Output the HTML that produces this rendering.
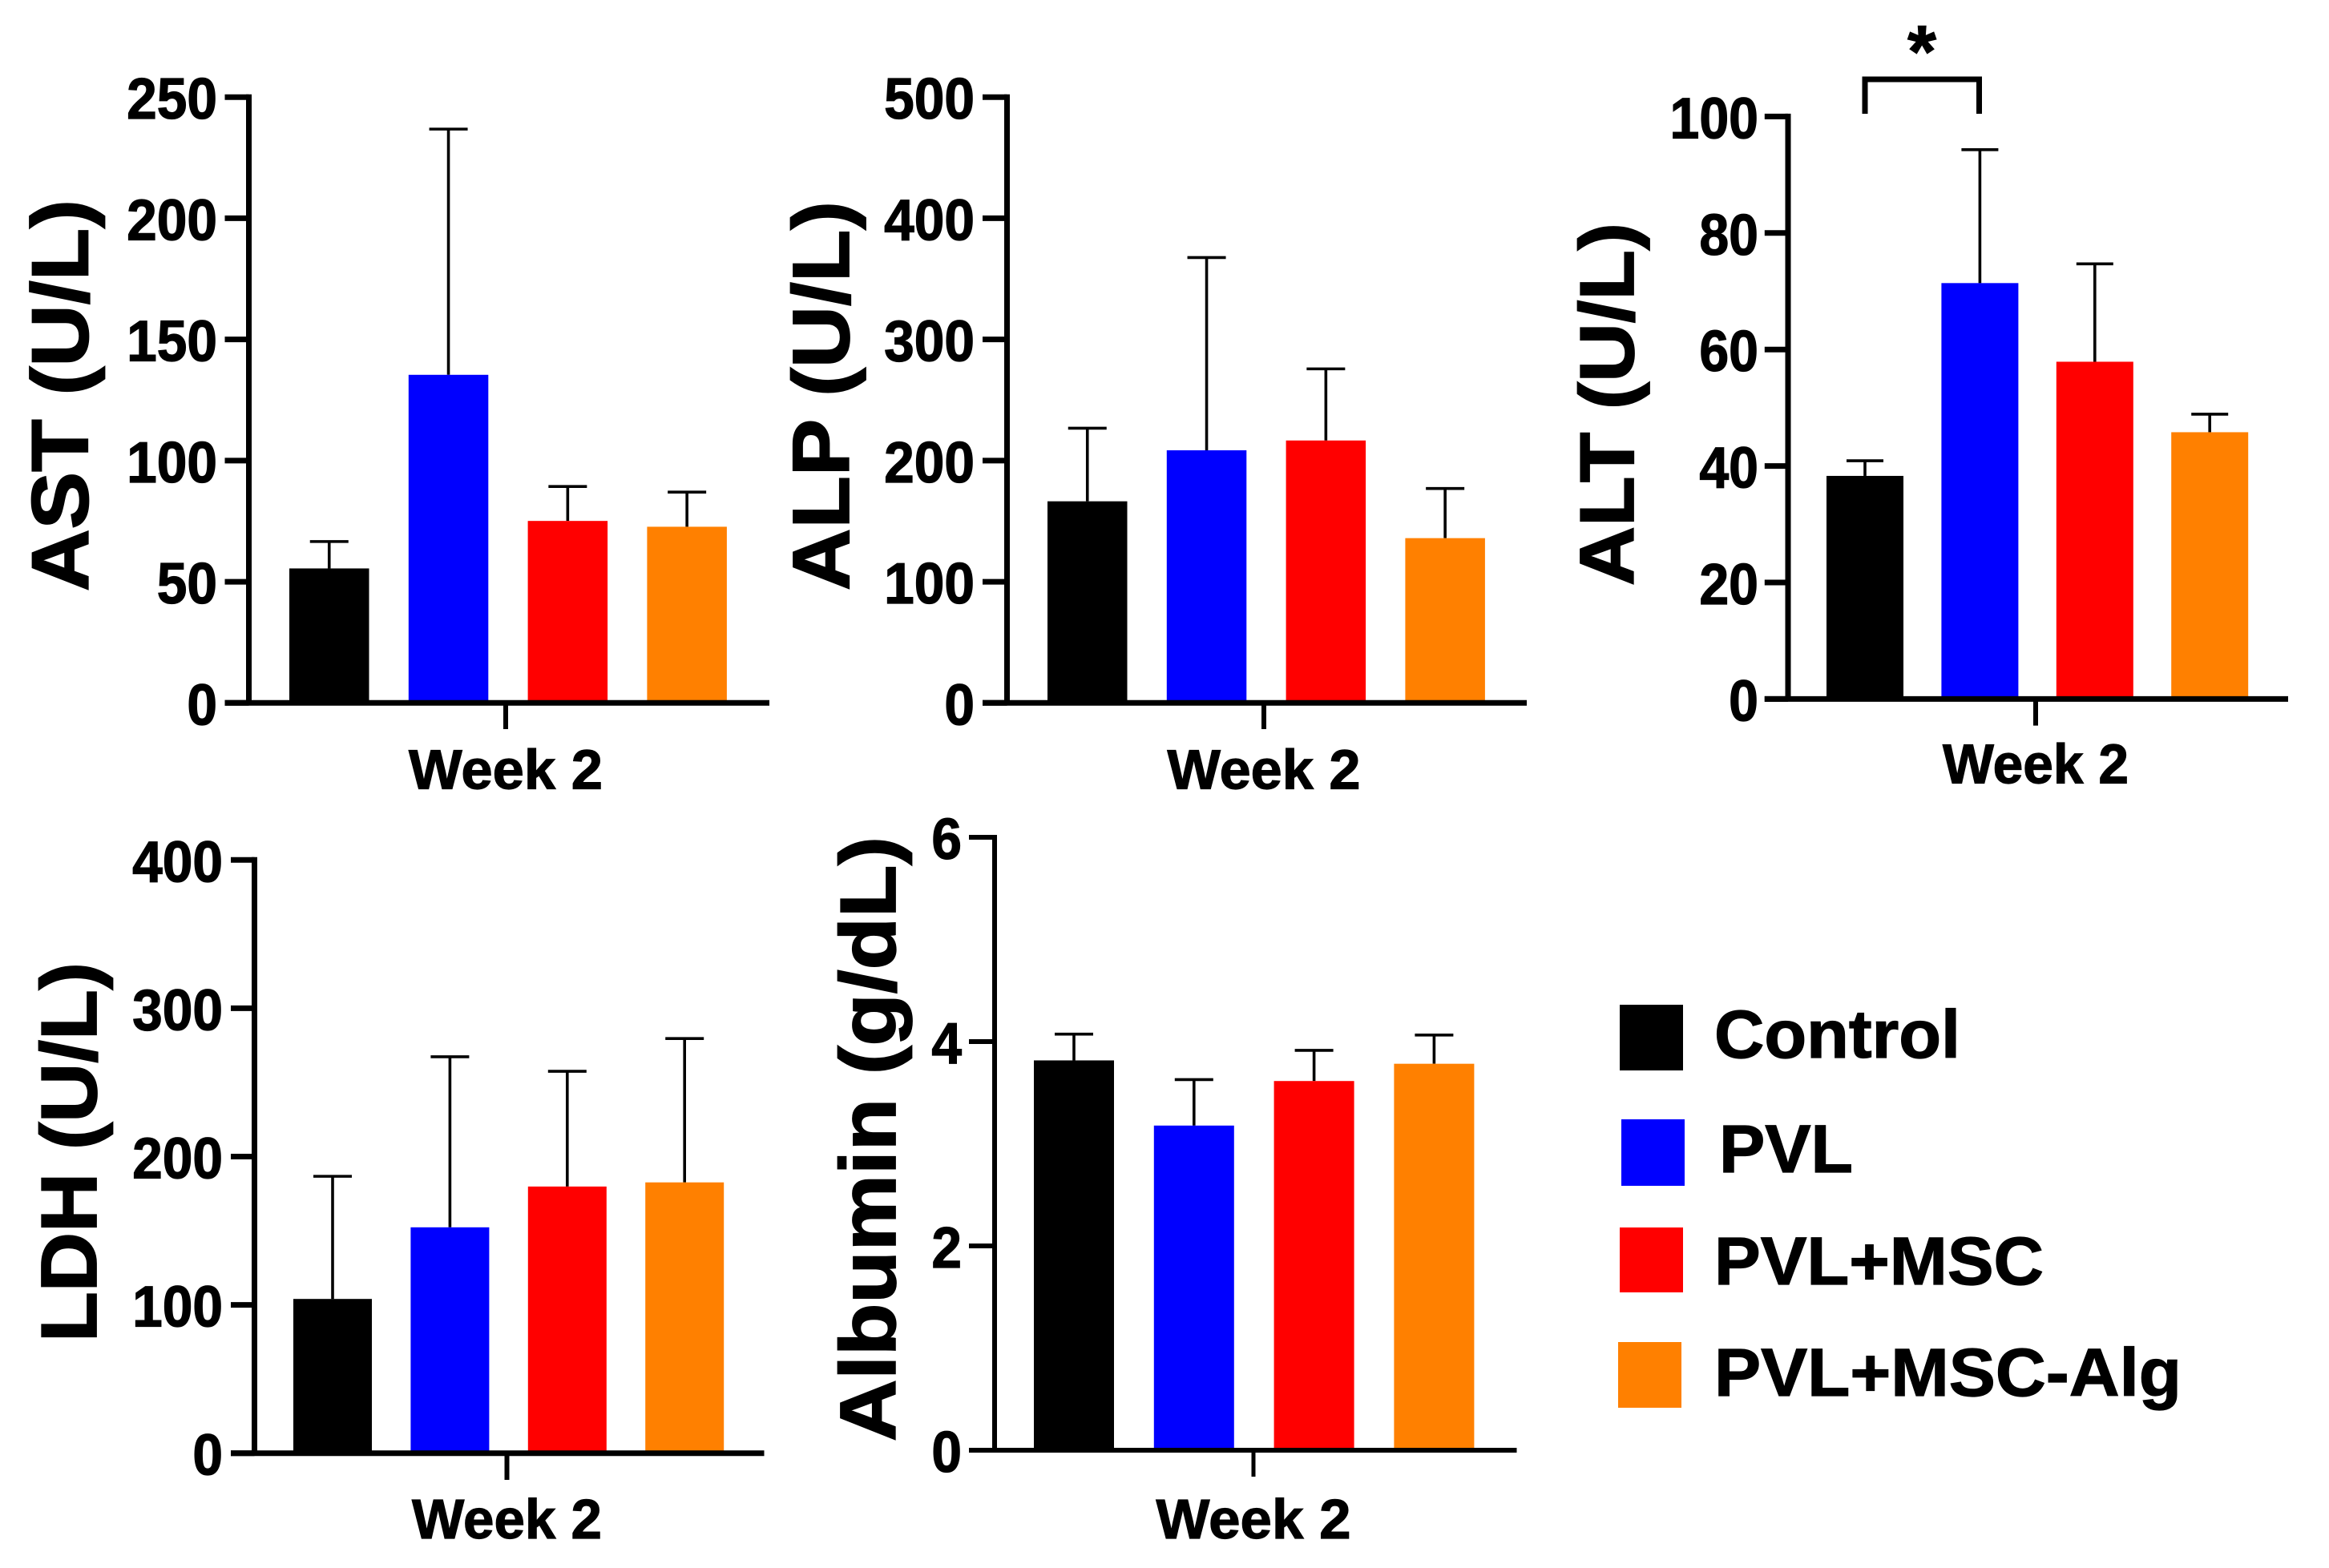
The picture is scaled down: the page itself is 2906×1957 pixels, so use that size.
<!DOCTYPE html>
<html lang="en">
<head>
<meta charset="utf-8">
<title>Liver function markers at week 2</title>
<style>
html,body{margin:0;padding:0;background:#fff;}
#figure{display:block;width:2906px;height:1957px;background:#fff;}
text{font-family:"Liberation Sans",Arial,sans-serif;font-weight:bold;fill:#000;stroke:#000;stroke-width:1.2px;}
</style>
</head>
<body>
<svg id="figure" xmlns="http://www.w3.org/2000/svg" width="2906" height="1957" viewBox="0 0 2906 1957"></svg>
<script>
// ---- data ----
const categories = ['Control', 'PVL', 'PVL+MSC', 'PVL+MSC-Alg'];
const seriesColors = ['#000000', '#0000ff', '#ff0000', '#ff8000'];
const xCategory = 'Week 2';

const astTicks = [0, 50, 100, 150, 200, 250];
const astMeans = [55.5, 135.4, 75.1, 72.7];
const astErrorTops = [66.6, 236.8, 89.3, 87];

const alpTicks = [0, 100, 200, 300, 400, 500];
const alpMeans = [166.4, 208.5, 216.6, 136];
const alpErrorTops = [226.7, 367.6, 275.7, 177];

const altTicks = [0, 20, 40, 60, 80, 100];
const altMeans = [38.3, 71.4, 57.9, 45.8];
const altErrorTops = [40.9, 94.3, 74.7, 48.9];

const ldhTicks = [0, 100, 200, 300, 400];
const ldhMeans = [104, 152.3, 179.8, 182.6];
const ldhErrorTops = [186.7, 267.3, 257.5, 279.6];

const albuminTicks = [0, 2, 4, 6];
const albuminMeans = [3.816, 3.178, 3.614, 3.783];
const albuminErrorTops = [4.073, 3.628, 3.914, 4.064];

// ---- drawing ----
const NS = 'http://www.w3.org/2000/svg';
const root = document.getElementById('figure');

function make(parent, tag, attrs, name) {
  const el = document.createElementNS(NS, tag);
  for (const k in attrs) el.setAttribute(k, attrs[k]);
  
  
  parent.appendChild(el);
  return el;
}

function line(parent, x1, y1, x2, y2, w, name) {
  return make(parent, 'line', {x1: x1, y1: y1, x2: x2, y2: y2, stroke: '#000', 'stroke-width': w}, name);
}

function drawPanel(key, title, ticks, means, errorTops, g) {
  const panel = make(root, 'g', {}, key + '-panel');
  const maxValue = ticks[ticks.length - 1];
  const yScale = v => g.base - (v / maxValue) * (g.base - g.top);
  const xScale = i => g.barStart + i * g.barStep;

  means.forEach((m, i) => {
    const left = xScale(i);
    const cx = left + g.barW / 2;
    const yTop = yScale(m);
    const yErr = yScale(errorTops[i]);
    line(panel, cx, yTop, cx, yErr, 3.6, key + '-error-bar-' + i);
    line(panel, cx - g.cap / 2, yErr, cx + g.cap / 2, yErr, 3.6, key + '-error-cap-' + i);
    make(panel, 'rect', {x: left, y: yTop, width: g.barW, height: g.base - yTop, fill: seriesColors[i]}, key + '-bar-' + i);
  });

  line(panel, g.axisX, g.top - g.sw / 2, g.axisX, g.base, g.sw, key + '-y-axis');
  line(panel, g.tickLeft, g.base, g.right, g.base, g.sw, key + '-x-axis');
  line(panel, g.xTick, g.base, g.xTick, g.xTickBottom, g.sw - 1, key + '-x-tick');

  ticks.forEach(t => {
    const y = yScale(t);
    line(panel, g.tickLeft, y, g.axisX, y, g.sw, key + '-y-tick-' + t);
    const label = make(panel, 'text', {
      transform: 'translate(' + g.labelRight + ',' + (y + 27) + ') scale(' + g.labelScale + ',1)',
      'text-anchor': 'end',
      'font-size': 72
    }, key + '-y-tick-label-' + t);
    label.textContent = t;
  });

  const axisTitle = make(panel, 'text', {
    transform: 'translate(' + g.titleX + ',' + g.titleStart + ') rotate(-90)',
    'font-size': g.titleSize,
    textLength: g.titleLen,
    lengthAdjust: 'spacingAndGlyphs',
    style: 'stroke-width:1.8px'
  }, key + '-y-axis-title');
  axisTitle.textContent = title;

  const week = make(panel, 'text', {
    x: g.xTick,
    y: g.weekBase,
    'text-anchor': 'middle',
    'font-size': 70,
    textLength: g.weekLen,
    lengthAdjust: 'spacingAndGlyphs'
  }, key + '-x-category-label');
  week.textContent = xCategory;
  return panel;
}

drawPanel('ast', 'AST (U/L)', astTicks, astMeans, astErrorTops, {
  axisX: 310.5, top: 121.2, base: 877.3, tickLeft: 280.5, right: 960, xTick: 631, xTickBottom: 910,
  barStart: 361, barStep: 148.8, barW: 99.5, cap: 48, sw: 7, labelRight: 271, labelScale: 0.94,
  titleX: 109.5, titleStart: 738, titleLen: 489, titleSize: 100, weekBase: 984.5, weekLen: 242
});

drawPanel('alp', 'ALP (U/L)', alpTicks, alpMeans, alpErrorTops, {
  axisX: 1256.5, top: 121.2, base: 877.3, tickLeft: 1226, right: 1905, xTick: 1577, xTickBottom: 910,
  barStart: 1307, barStep: 148.8, barW: 99.5, cap: 48, sw: 7, labelRight: 1216, labelScale: 0.94,
  titleX: 1059, titleStart: 737, titleLen: 486, titleSize: 100, weekBase: 984.5, weekLen: 241
});

const altPanel = drawPanel('alt', 'ALT (U/L)', altTicks, altMeans, altErrorTops, {
  axisX: 2231, top: 145.4, base: 872.4, tickLeft: 2201.8, right: 2855, xTick: 2540, xTickBottom: 905.6,
  barStart: 2279, barStep: 143.4, barW: 96, cap: 46, sw: 7, labelRight: 2194, labelScale: 0.92,
  titleX: 2038, titleStart: 731, titleLen: 453, titleSize: 96, weekBase: 977.7, weekLen: 232
});

drawPanel('ldh', 'LDH (U/L)', ldhTicks, ldhMeans, ldhErrorTops, {
  axisX: 317.5, top: 1073.3, base: 1813.7, tickLeft: 288, right: 953.5, xTick: 632.5, xTickBottom: 1847,
  barStart: 366, barStep: 146.4, barW: 98, cap: 48, sw: 7, labelRight: 278, labelScale: 0.94,
  titleX: 120, titleStart: 1675, titleLen: 474, titleSize: 98, weekBase: 1920, weekLen: 237
});

drawPanel('albumin', 'Albumin (g/dL)', albuminTicks, albuminMeans, albuminErrorTops, {
  axisX: 1241, top: 1045, base: 1810, tickLeft: 1209, right: 1892.5, xTick: 1564, xTickBottom: 1843,
  barStart: 1290, barStep: 149.8, barW: 100, cap: 48, sw: 6, labelRight: 1200, labelScale: 0.94,
  titleX: 1117, titleStart: 1799, titleLen: 755, titleSize: 98, weekBase: 1920, weekLen: 243
});

// significance bracket on the ALT panel
const bracket = document.createElementNS(NS, 'polyline');
bracket.setAttribute('points', '2327,142 2327,99 2469.5,99 2469.5,142');
bracket.setAttribute('fill', 'none');
bracket.setAttribute('stroke', '#000');
bracket.setAttribute('stroke-width', '7');


altPanel.appendChild(bracket);

const star = document.createElementNS(NS, 'text');
star.setAttribute('x', '2398');
star.setAttribute('y', '96');
star.setAttribute('text-anchor', 'middle');
star.setAttribute('font-size', '92');


star.textContent = '*';
altPanel.appendChild(star);

// legend
const legendSwatchX = [2021, 2023, 2021, 2019];
const legendSwatchY = [1254, 1397, 1532, 1675];
const legendSwatchH = [82, 83, 81, 82];
const legendTextX = [2139, 2145, 2139, 2139];
const legendTextY = [1320, 1463, 1603, 1742];
const legendTextLen = [307, 167, 411, 583];
const legend = make(root, 'g', {}, 'legend');
categories.forEach((c, i) => {
  const entry = make(legend, 'g', {}, 'legend-entry-' + i);
  make(entry, 'rect', {x: legendSwatchX[i], y: legendSwatchY[i], width: 79, height: legendSwatchH[i], fill: seriesColors[i]}, 'legend-swatch-' + i);
  const label = make(entry, 'text', {
    x: legendTextX[i],
    y: legendTextY[i],
    'font-size': 84,
    textLength: legendTextLen[i],
    lengthAdjust: 'spacingAndGlyphs'
  }, 'legend-label-' + i);
  label.textContent = c;
});
</script>
</body>
</html>
